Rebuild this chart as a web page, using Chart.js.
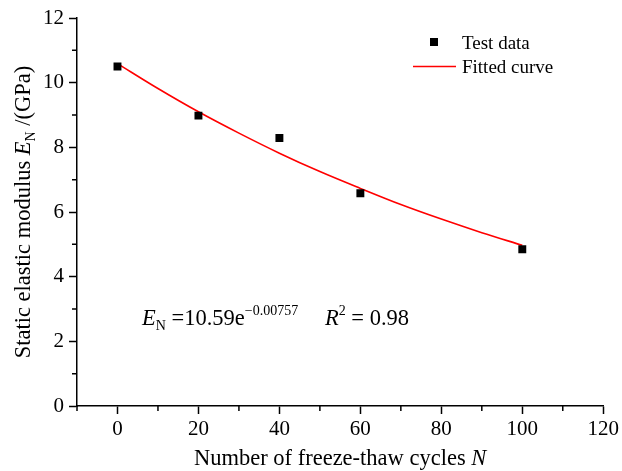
<!DOCTYPE html>
<html>
<head>
<meta charset="utf-8">
<script src="https://cdn.jsdelivr.net/npm/chart.js@4/dist/chart.umd.min.js"></script>
<style>
  html, body { margin: 0; padding: 0; background: #fff; }
  #wrap { width: 622px; height: 471px; }
</style>
</head>
<body>
<div id="wrap"><canvas id="modulusChart" width="622" height="471"></canvas></div>
<script>
// measured static elastic modulus (GPa) vs freeze-thaw cycles
const cycles = [0, 20, 40, 60, 100];
const modulus = [10.5, 8.98, 8.29, 6.58, 4.85];

// fitted exponential curve, sampled every 10 cycles
const fitCycles = [0, 10, 20, 30, 40, 50, 60, 70, 80, 90, 100];
const fitModulus = [10.59, 9.82, 9.10, 8.44, 7.82, 7.25, 6.73, 6.23, 5.78, 5.36, 4.97];

const xTicks = [0, 20, 40, 60, 80, 100, 120];
const yTicks = [0, 2, 4, 6, 8, 10, 12];
const xMinor = [-10, 10, 30, 50, 70, 90, 110];
const yMinor = [1, 3, 5, 7, 9, 11];

const serif = '"Liberation Serif", "Times New Roman", serif';
const TITLE = 22.5;

function font(size, style) {
    return (style || '') + ' ' + size + 'px ' + serif;
}

// draws a row of text pieces, each with its own font and vertical shift
function runsWidth(ctx, runs) {
    let w = 0;
    runs.forEach(r => { ctx.font = r.font; w += ctx.measureText(r.text).width; });
    return w;
}
function drawRuns(ctx, x, y, runs) {
    runs.forEach(r => {
        ctx.font = r.font;
        ctx.fillText(r.text, x, y + (r.dy || 0));
        x += ctx.measureText(r.text).width;
    });
}

const extrasPlugin = {
    id: 'extras',
    afterDraw(chart) {
        const ctx = chart.ctx;
        const xs = chart.scales.x, ys = chart.scales.y;
        const area = chart.chartArea;
        ctx.save();
        ctx.strokeStyle = '#000';
        ctx.fillStyle = '#000';
        ctx.lineWidth = 1.5;

        // minor ticks
        ctx.beginPath();
        xMinor.forEach(v => {
            const px = xs.getPixelForValue(v);
            ctx.moveTo(px, area.bottom);
            ctx.lineTo(px, area.bottom + 5);
        });
        yMinor.forEach(v => {
            const py = ys.getPixelForValue(v);
            ctx.moveTo(area.left, py);
            ctx.lineTo(area.left - 5, py);
        });
        ctx.stroke();

        ctx.textBaseline = 'alphabetic';
        ctx.textAlign = 'left';

        // x axis title
        const xRuns = [
            { text: 'Number of freeze-thaw cycles ', font: font(TITLE) },
            { text: 'N', font: font(TITLE, 'italic') }
        ];
        const xw = runsWidth(ctx, xRuns);
        drawRuns(ctx, (area.left + area.right) / 2 - xw / 2, 465, xRuns);

        // y axis title, rotated
        const yRuns = [
            { text: 'Static elastic modulus ', font: font(TITLE) },
            { text: 'E', font: font(TITLE, 'italic') },
            { text: 'N', font: font(14), dy: 5 },
            { text: ' /(GPa)', font: font(TITLE) }
        ];
        const yw = runsWidth(ctx, yRuns);
        ctx.save();
        ctx.translate(30, (area.top + area.bottom) / 2);
        ctx.rotate(-Math.PI / 2);
        drawRuns(ctx, -yw / 2, 0, yRuns);
        ctx.restore();

        // fit equation and R^2
        drawRuns(ctx, 142, 325, [
            { text: 'E', font: font(22.5, 'italic') },
            { text: 'N', font: font(14), dy: 5 },
            { text: ' =10.59e', font: font(22.5) },
            { text: '\u22120.00757', font: font(14), dy: -10 }
        ]);
        drawRuns(ctx, 325, 325, [
            { text: 'R', font: font(22.5, 'italic') },
            { text: '2', font: font(14), dy: -10 },
            { text: ' = 0.98', font: font(22.5) }
        ]);

        // legend
        ctx.fillRect(430, 38, 8, 8);
        ctx.font = font(19);
        ctx.fillText('Test data', 462, 49);
        ctx.strokeStyle = '#ff0000';
        ctx.beginPath();
        ctx.moveTo(413, 66.5);
        ctx.lineTo(456, 66.5);
        ctx.stroke();
        ctx.fillText('Fitted curve', 462, 73);

        ctx.restore();
    }
};

const tickFont = { family: serif, size: 21 };

new Chart(document.getElementById('modulusChart'), {
    type: 'scatter',
    data: {
        datasets: [
            {
                label: 'Fitted curve',
                data: fitCycles.map((n, i) => ({ x: n, y: fitModulus[i] })),
                showLine: true,
                borderColor: '#ff0000',
                borderWidth: 1.6,
                pointRadius: 0,
                cubicInterpolationMode: 'monotone',
                order: 2
            },
            {
                label: 'Test data',
                data: cycles.map((n, i) => ({ x: n, y: modulus[i] })),
                pointStyle: 'rect',
                pointRadius: 5.6,
                backgroundColor: '#000',
                borderColor: '#000',
                borderWidth: 0,
                order: 1
            }
        ]
    },
    options: {
        responsive: false,
        animation: false,
        devicePixelRatio: 1,
        layout: { padding: { top: 18, right: 18, left: 0, bottom: 0 } },
        plugins: {
            legend: { display: false },
            tooltip: { enabled: false }
        },
        scales: {
            x: {
                type: 'linear',
                min: -10,
                max: 120,
                afterBuildTicks: s => { s.ticks = xTicks.map(v => ({ value: v })); },
                afterFit: s => { s.height = 65; },
                border: { display: true, color: '#000', width: 1.5 },
                grid: { drawOnChartArea: false, drawTicks: true, tickLength: 8, color: '#000', tickWidth: 1.5 },
                ticks: { font: tickFont, color: '#000', padding: 3, maxRotation: 0 }
            },
            y: {
                type: 'linear',
                min: 0,
                max: 12,
                afterBuildTicks: s => { s.ticks = yTicks.map(v => ({ value: v })); },
                afterFit: s => { s.width = 77; },
                border: { display: true, color: '#000', width: 1.5 },
                grid: { drawOnChartArea: false, drawTicks: true, tickLength: 8, color: '#000', tickWidth: 1.5 },
                ticks: { font: tickFont, color: '#000', padding: 5 }
            }
        }
    },
    plugins: [extrasPlugin]
});
</script>
</body>
</html>
